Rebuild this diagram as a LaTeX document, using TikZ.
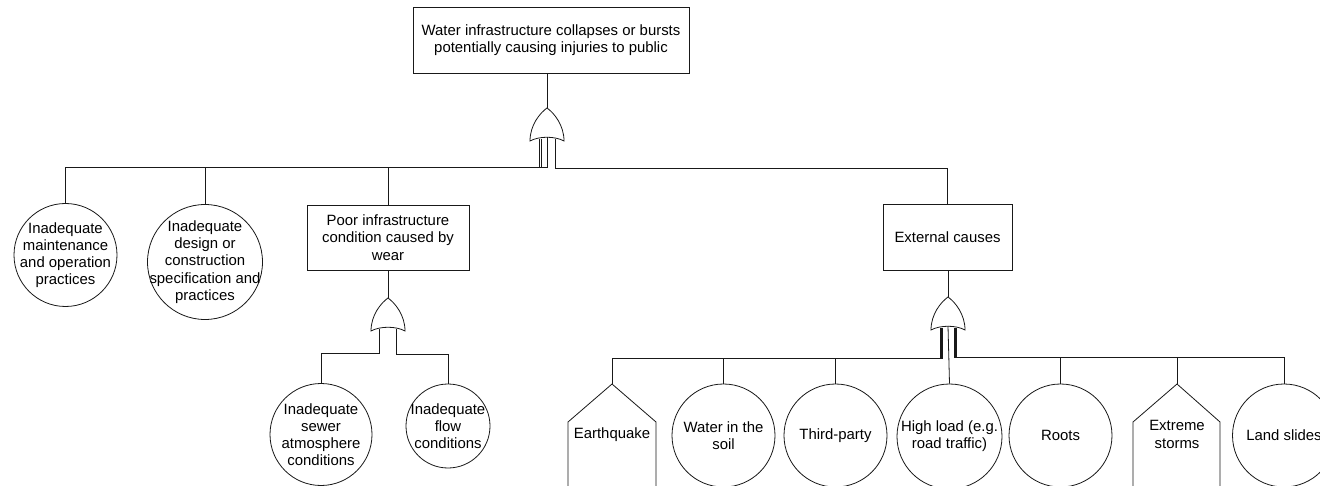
\documentclass[tikz,border=0pt]{standalone}
\usepackage{fontspec}
\setmainfont{Liberation Sans}
\usetikzlibrary{calc}
\newcommand\evfont{\fontsize{14.9}{17.2}\selectfont}
% OR gate: tip at (#2,#3), pointed top and concave base
\newcommand\orgate[3]{%
  \begin{scope}[shift={(#2,#3)}]
    \coordinate (#1) at (0,0);
    \draw[gatestyle] (0,0) .. controls (7,5) and (17,17) .. (17,33)
      .. controls (8,28) and (-8,28) .. (-17,33)
      .. controls (-17,17) and (-7,5) .. cycle;
  \end{scope}}
\tikzset{
  wire/.style={draw=black!90, line width=0.8pt},
  gatestyle/.style={draw=black!90, line width=0.8pt, fill=white},
  evbox/.style={draw=black!90, line width=0.8pt, rectangle, inner sep=0pt, align=center, font=\evfont},
  leaf/.style={draw=black!90, line width=0.8pt, circle, inner sep=0pt},
  lbl/.style={align=center, inner sep=0pt, font=\evfont},
}
\begin{document}
\begin{tikzpicture}[x=1pt,y=-1pt]
\useasboundingbox[fill=white] (0,0) rectangle (1320,486);

% top event
\node[evbox, minimum width=276, minimum height=66] (top) at (551,40)
  {Water infrastructure collapses or bursts\\potentially causing injuries to public};
\orgate{g1}{547}{108}
\draw[wire] (top.south -| g1) -- (g1);

% first level
\node[leaf, minimum size=103] (c1) at (65.5,255) {};
\node[lbl] (c1t) at (c1) {Inadequate\\maintenance\\and operation\\practices};
\node[leaf, minimum size=115] (c2) at (205,262) {};
\node[lbl] (c2t) at (c2) {Inadequate\\design or\\construction\\specification and\\practices};
\node[evbox, minimum width=162, minimum height=65] (wear) at (388,237.5)
  {Poor infrastructure\\condition caused by\\wear};
\node[evbox, minimum width=129, minimum height=66] (ext) at (947.5,237) {External causes};

\coordinate (bus1) at (0,167);
\coordinate (g1a) at (539,139);
\coordinate (g1b) at (541,139);
\coordinate (g1c) at (547,137);
\coordinate (g1d) at (555,139);
\draw[wire] (g1a) -- (g1a |- bus1) -| (c1.north);
\draw[wire] (g1b) -- (g1b |- bus1) -| (c2.north);
\draw[wire] (g1c) -- (g1c |- bus1) -| (wear.north);
\draw[wire] (g1d) -- ($(g1d |- bus1)+(0,1)$) -| (ext.north);

% wear branch
\orgate{g2}{388}{298}
\draw[wire] (wear.south) -- (g2);
\node[leaf, minimum size=102] (c3) at (321,434.5) {};
\node[lbl] (c3t) at (c3) {Inadequate\\sewer\\atmosphere\\conditions};
\node[leaf, minimum size=84] (c4) at (448,426) {};
\node[lbl] (c4t) at (c4) {Inadequate\\flow\\conditions};
\coordinate (bus2) at (0,353);
\coordinate (g2a) at (379,329);
\coordinate (g2b) at (396,329);
\draw[wire] (g2a) -- (g2a |- bus2) -| (c3.north);
\draw[wire] (g2b) -- ($(g2b |- bus2)+(0,1)$) -| (c4.north);

% external branch
\orgate{g3}{948}{297}
\draw[wire] (ext.south -| g3) -- (g3);

\coordinate (eqtop) at (612,384);
\draw[wire] (eqtop) -- ++(44,38) -- ++(0,80);
\draw[wire] (eqtop) -- ++(-44,38) -- ++(0,80);
\node[lbl] (eq) at (612,435) {Earthquake};

\node[leaf, minimum size=103] (soil) at (723.5,435.5) {};
\node[lbl] (soilt) at (soil) {Water in the\\soil};
\node[leaf, minimum size=103] (third) at (835.5,435.5) {};
\node[lbl] (thirdt) at (third) {Third-party};
\node[leaf, minimum size=105] (load) at (949.5,436.5) {};
\node[lbl] (loadt) at (load) {High load (e.g.\\road traffic)};
\node[leaf, minimum size=103] (roots) at (1060.5,435.5) {};
\node[lbl] (rootst) at (roots) {Roots};

\coordinate (sttop) at (1177,384);
\draw[wire] (sttop) -- ++(43,38) -- ++(0,80);
\draw[wire] (sttop) -- ++(-44,38) -- ++(0,80);
\node[lbl] (storm) at (1177,434.5) {Extreme\\storms};

\node[leaf, minimum size=103] (slide) at (1284,435.5) {};
\node[lbl] (slidet) at (slide) {Land slides};

\coordinate (bus3) at (0,358);
\coordinate (g3a) at (940,328);
\coordinate (g3b) at (941,328);
\coordinate (g3c) at (942,328);
\coordinate (g3d) at (954,328);
\coordinate (g3e) at (955,328);
\coordinate (g3f) at (956,328);
\draw[wire] (g3a) -- (g3a |- bus3) -| (eqtop);
\draw[wire] (g3b) -- (g3b |- bus3) -| (soil.north);
\draw[wire] (g3c) -- (g3c |- bus3) -| (third.north);
\draw[wire] (g3) ++(0,29) -- (load.north);
\draw[wire] (g3d) -- ($(g3d |- bus3)+(0,-1)$) -| (roots.north);
\draw[wire] (g3e) -- ($(g3e |- bus3)+(0,-1)$) -| (sttop);
\draw[wire] (g3f) -- ($(g3f |- bus3)+(0,-1)$) -| (slide.north);
\end{tikzpicture}
\end{document}
